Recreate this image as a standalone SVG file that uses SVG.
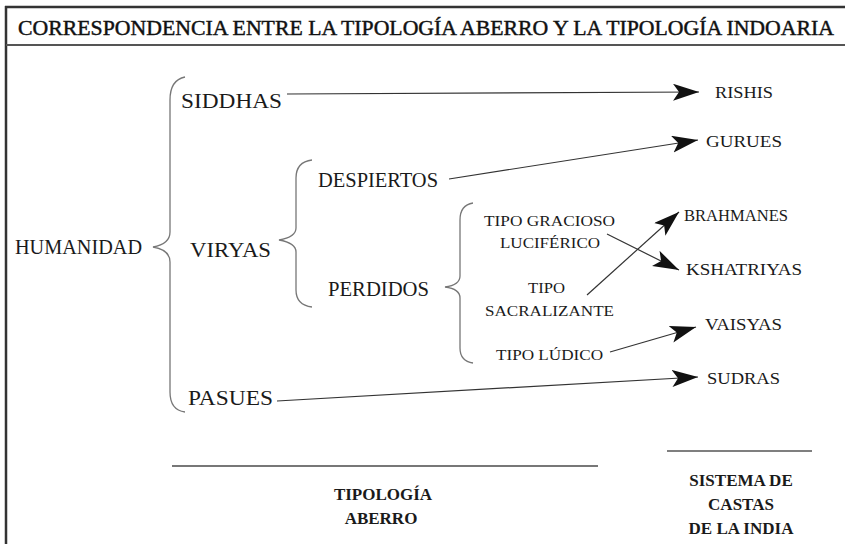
<svg xmlns="http://www.w3.org/2000/svg" width="845" height="544" viewBox="0 0 845 544">
<defs>
<marker id="ah" markerUnits="userSpaceOnUse" markerWidth="27" markerHeight="18" refX="26" refY="8.5" orient="auto">
<path d="M0,0 L26,8.5 L0,17 L6,8.5 z" fill="#111"/>
</marker>
</defs>
<style>
.t{font-family:'Liberation Serif',serif;fill:#1a1a1a;}
.big{font-size:20px;}
.mid{font-size:17px;}
.sm{font-size:15px;}
.bold{font-size:17px;font-weight:bold;fill:#1a1a1a;font-family:'Liberation Serif',serif;text-anchor:middle;}
.br{fill:none;stroke:#777;stroke-width:1.3;}
.c{fill:none;stroke:#333;stroke-width:1.2;marker-end:url(#ah);}
.fr{stroke:#333;fill:none;}
.rule{stroke:#777;stroke-width:2;}
</style>
<rect width="845" height="544" fill="#fff"/>
<g id="frame">
<line class="fr" x1="5" y1="7" x2="845" y2="7" stroke-width="2.5"/>
<line class="fr" x1="6" y1="6" x2="6" y2="544" stroke-width="2.5"/>
<line x1="6" y1="45" x2="845" y2="45" stroke="#555" stroke-width="2"/>
<text transform="translate(18,35) scale(1,1.25)" x="0" y="0" font-family="'Liberation Serif', serif" font-size="17" textLength="816" lengthAdjust="spacingAndGlyphs" fill="#111" stroke="#111" stroke-width="0.35">CORRESPONDENCIA ENTRE LA TIPOLOGÍA ABERRO Y LA TIPOLOGÍA INDOARIA</text>
</g>
<g id="humanidad">
<text class="t big" x="15" y="254" textLength="127" lengthAdjust="spacingAndGlyphs">HUMANIDAD</text>
<path class="br" d="M185,77 Q170,80 170,100 L170,232 Q170,244 153,247 Q170,250 170,262 L170,392 Q170,410 185,412"/>
</g>
<g id="siddhas"><text class="t big" x="181" y="108" textLength="101" lengthAdjust="spacingAndGlyphs">SIDDHAS</text></g>
<g id="viryas">
<text class="t big" x="190" y="257" textLength="81" lengthAdjust="spacingAndGlyphs">VIRYAS</text>
<path class="br" d="M312,160 Q296,162 296,178 L296,228 Q296,237 279,240 Q296,243 296,252 L296,290 Q296,305 312,307"/>
</g>
<g id="pasues"><text class="t big" x="188" y="405" textLength="85" lengthAdjust="spacingAndGlyphs">PASUES</text></g>
<g id="despiertos"><text class="t big" x="318" y="187" textLength="120" lengthAdjust="spacingAndGlyphs">DESPIERTOS</text></g>
<g id="perdidos">
<text class="t big" x="328" y="296" textLength="101" lengthAdjust="spacingAndGlyphs">PERDIDOS</text>
<path class="br" d="M473,203 Q460,205 460,220 L460,276 Q460,285 445,287 Q460,289 460,298 L460,348 Q460,361 473,363"/>
</g>
<g id="gracioso">
<text class="t sm" x="484" y="226" textLength="131" lengthAdjust="spacingAndGlyphs">TIPO GRACIOSO</text>
<text class="t sm" x="500" y="248" textLength="100" lengthAdjust="spacingAndGlyphs">LUCIFÉRICO</text>
</g>
<g id="sacralizante">
<text class="t sm" x="528" y="293" textLength="37" lengthAdjust="spacingAndGlyphs">TIPO</text>
<text class="t sm" x="485" y="316" textLength="129" lengthAdjust="spacingAndGlyphs">SACRALIZANTE</text>
</g>
<g id="ludico"><text class="t sm" x="496" y="360" textLength="107" lengthAdjust="spacingAndGlyphs">TIPO LÚDICO</text></g>
<g id="rishis"><text class="t mid" x="715" y="98" textLength="58" lengthAdjust="spacingAndGlyphs">RISHIS</text></g>
<g id="gurues"><text class="t mid" x="706" y="147" textLength="76" lengthAdjust="spacingAndGlyphs">GURUES</text></g>
<g id="brahmanes"><text class="t mid" x="684" y="221" textLength="104" lengthAdjust="spacingAndGlyphs">BRAHMANES</text></g>
<g id="kshatriyas"><text class="t mid" x="686" y="275" textLength="116" lengthAdjust="spacingAndGlyphs">KSHATRIYAS</text></g>
<g id="vaisyas"><text class="t mid" x="705" y="330" textLength="77" lengthAdjust="spacingAndGlyphs">VAISYAS</text></g>
<g id="sudras"><text class="t mid" x="707" y="384" textLength="73" lengthAdjust="spacingAndGlyphs">SUDRAS</text></g>
<g id="connectors">
<line class="c" x1="287" y1="94" x2="699" y2="92"/>
<line class="c" x1="449" y1="179" x2="698" y2="140"/>
<line class="c" x1="607" y1="234" x2="679" y2="270"/>
<line class="c" x1="587" y1="295" x2="679" y2="212"/>
<line class="c" x1="610" y1="352" x2="696" y2="327"/>
<line class="c" x1="277" y1="401" x2="698" y2="377"/>
</g>
<g id="aberro">
<line class="rule" x1="172" y1="466" x2="598" y2="466"/>
<text class="bold" x="383" y="500">TIPOLOGÍA</text>
<text class="bold" x="381" y="524">ABERRO</text>
</g>
<g id="castas">
<line x1="667" y1="451" x2="812" y2="451" stroke="#555" stroke-width="1.5"/>
<text class="bold" x="741" y="486">SISTEMA DE</text>
<text class="bold" x="741" y="510">CASTAS</text>
<text class="bold" x="741" y="534">DE LA INDIA</text>
</g>
</svg>
